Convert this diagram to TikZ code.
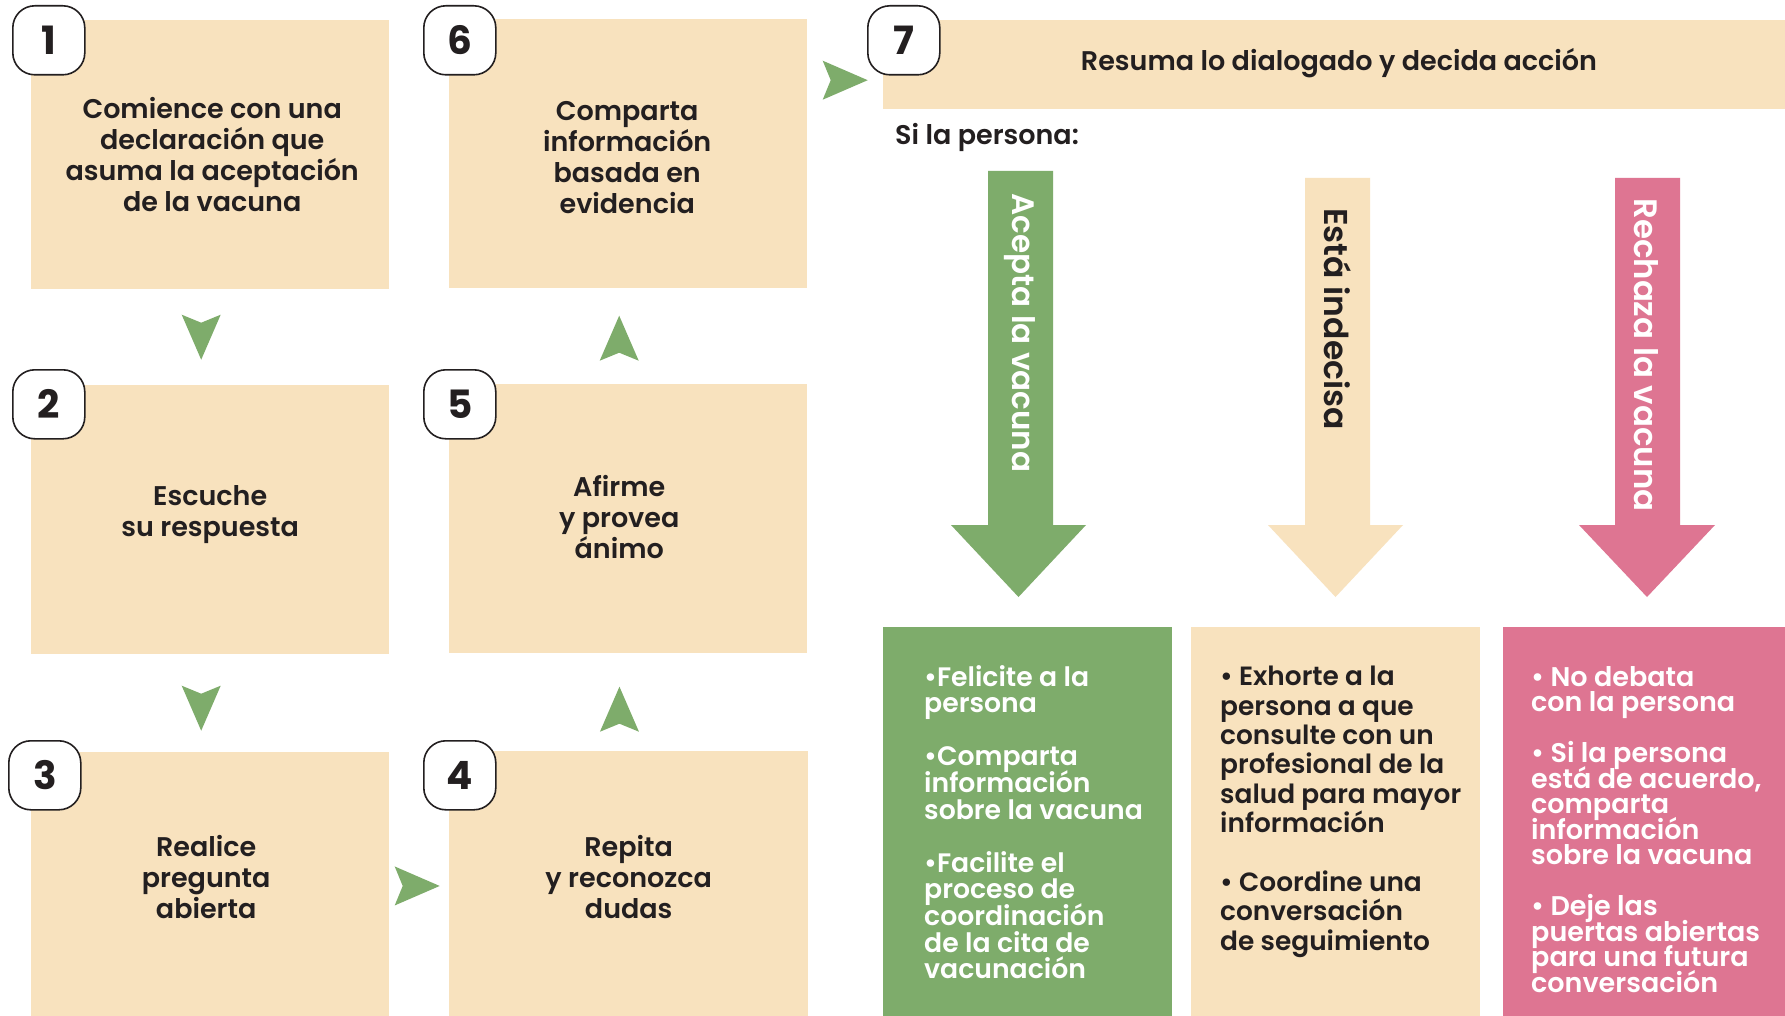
\documentclass[tikz,border=0pt]{standalone}
\usepackage{fontspec}
\setmainfont{Poppins}[UprightFont=* SemiBold, BoldFont=* Bold]
\usetikzlibrary{calc}
\definecolor{beige}{HTML}{F8E2BE}
\definecolor{vgreen}{HTML}{7EAC6B}
\definecolor{vpink}{HTML}{DE7592}
\definecolor{ink}{HTML}{231F20}
\tikzset{
  pics/chev/.style={code={\fill[vgreen] (-19.5,-22.5) -- (0,-14.5) -- (19.5,-22.5) -- (0,22.5) -- cycle;}},
}
\begin{document}
\setlength{\lineskiplimit}{-100pt}
\begin{tikzpicture}[x=1pt,y=-1pt,
  box/.style={fill=beige, draw=none, inner sep=0pt, anchor=north west, minimum width=358pt, minimum height=269pt},
  badge/.style={draw=ink, line width=1.6pt, fill=white, rounded corners=22pt, anchor=north west,
    minimum width=72pt, minimum height=69pt, inner sep=0pt, text=ink, font=\fontsize{39}{39}\selectfont\bfseries},
  steptext/.style={align=center, text=ink, inner sep=0pt, font=\fontsize{27}{31}\selectfont},
  listtext/.style={align=left, inner sep=0pt, anchor=north west},
  vlabel/.style={rotate=-90, inner sep=0pt},
]
\fill[white] (0,0) rectangle (1785,1016);
\useasboundingbox (0,0) rectangle (1785,1016);

% step boxes
\node[box] (s1) at (31,20) {};
\node[box] (s6) at (449,19) {};
\node[box] (s2) at (31,385) {};
\node[box] (s5) at (449,384) {};
\node[box, minimum height=264pt] (s3) at (31,752) {};
\node[box, minimum height=265pt, minimum width=359pt] (s4) at (449,751) {};
\node[box, minimum width=902pt, minimum height=89pt] (s7) at (883,20) {};
\node[text=ink, font=\fontsize{27}{30}\selectfont, inner sep=0pt] (h7) at (1339,63) {Resuma lo dialogado y decida acción};

% step texts
\node[steptext] (t1) at ($(s1.center)+(2,0)$) {Comience con una\\declaración que\\asuma la aceptación\\de la vacuna};
\node[steptext] (t6) at ($(s6.center)+(-1,4)$) {Comparta\\información\\basada en\\evidencia};
\node[steptext] (t2) at ($(s2.center)+(0,-5)$) {Escuche\\su respuesta};
\node[steptext] (t5) at ($(s5.center)+(-9,-2)$) {Afirme\\y provea\\ánimo};
\node[steptext] (t3) at ($(s3.center)+(-4,-7)$) {Realice\\pregunta\\abierta};
\node[steptext] (t4) at ($(s4.center)+(0,-7)$) {Repita\\y reconozca\\dudas};

% badges
\node[badge] (b1) at (12,5) {1};
\node[badge] (b6) at (423,5) {6};
\node[badge] (b7) at (867,5) {7};
\node[badge] (b2) at (12,369) {2};
\node[badge] (b5) at (423,369) {5};
\node[badge] (b3) at (8,740) {3};
\node[badge] (b4) at (423,740) {4};

% chevron connectors
\pic at ($(s1.south)!0.5!(s2.north)+(-9,0)$) {chev};
\pic at ($(s2.south)!0.5!(s3.north)+(-9,5)$) {chev};
\pic[rotate=90] at ($(s3.east)!0.5!(s4.west)+(-2,2)$) {chev};
\pic[rotate=180] at ($(s4.north)!0.5!(s5.south)+(-9,7)$) {chev};
\pic[rotate=180] at ($(s5.north)!0.5!(s6.south)+(-9,2)$) {chev};
\pic[rotate=90] at ($(s6.east)!0.5!(s7.west)+(0,-29)$) {chev};

\node[text=ink, font=\fontsize{27}{30}\selectfont, inner sep=0pt, anchor=west] (si) at (895,137) {Si la persona:};

% big arrows
\fill[vgreen] (988,171) -- (1053,171) -- (1053,525) -- (1086,525) -- (1018.5,597) -- (951,525) -- (988,525) -- cycle;
\fill[beige] (1305,178) -- (1370,178) -- (1370,525) -- (1403,525) -- (1335.5,597) -- (1268,525) -- (1305,525) -- cycle;
\fill[vpink] (1615,178) -- (1680,178) -- (1680,525) -- (1715,525) -- (1647,597) -- (1579,525) -- (1615,525) -- cycle;
\node[vlabel, text=white, font=\fontsize{31}{31}\selectfont] (l1) at (1020,333) {Acepta la vacuna};
\node[vlabel, text=ink, font=\fontsize{33}{33}\selectfont] (l2) at (1338,319) {Está indecisa};
\node[vlabel, text=white, font=\fontsize{32.4}{33}\selectfont] (l3) at (1646,355) {Rechaza la vacuna};

% outcome boxes
\node[box, fill=vgreen, minimum width=289pt, minimum height=389pt] (o1) at (883,627) {};
\node[box, fill=beige, minimum width=289pt, minimum height=389pt] (o2) at (1191,627) {};
\node[box, fill=vpink, minimum width=282pt, minimum height=389pt] (o3) at (1503,627) {};

\node[listtext, text=white, font=\fontsize{26.7}{26.6}\selectfont] (p1) at (924,665)
 {•Felicite a la\\persona\\[26.6pt]•Comparta\\información\\sobre la vacuna\\[26.6pt]•Facilite el\\proceso de\\coordinación\\de la cita de\\vacunación};
\node[listtext, text=ink, font=\fontsize{26.4}{29.4}\selectfont] (p2) at (1220,666)
 {• Exhorte a la\\persona a que\\consulte con un\\profesional de la\\salud para mayor\\información\\[29.4pt]• Coordine una\\conversación\\de seguimiento};
\node[listtext, text=white, font=\fontsize{27}{25.5}\selectfont] (p3) at (1531,666)
 {• No debata\\con la persona\\[25.5pt]• Si la persona\\está de acuerdo,\\comparta\\información\\sobre la vacuna\\[25.5pt]• Deje las\\puertas abiertas\\para una futura\\conversación};
\end{tikzpicture}
\end{document}
